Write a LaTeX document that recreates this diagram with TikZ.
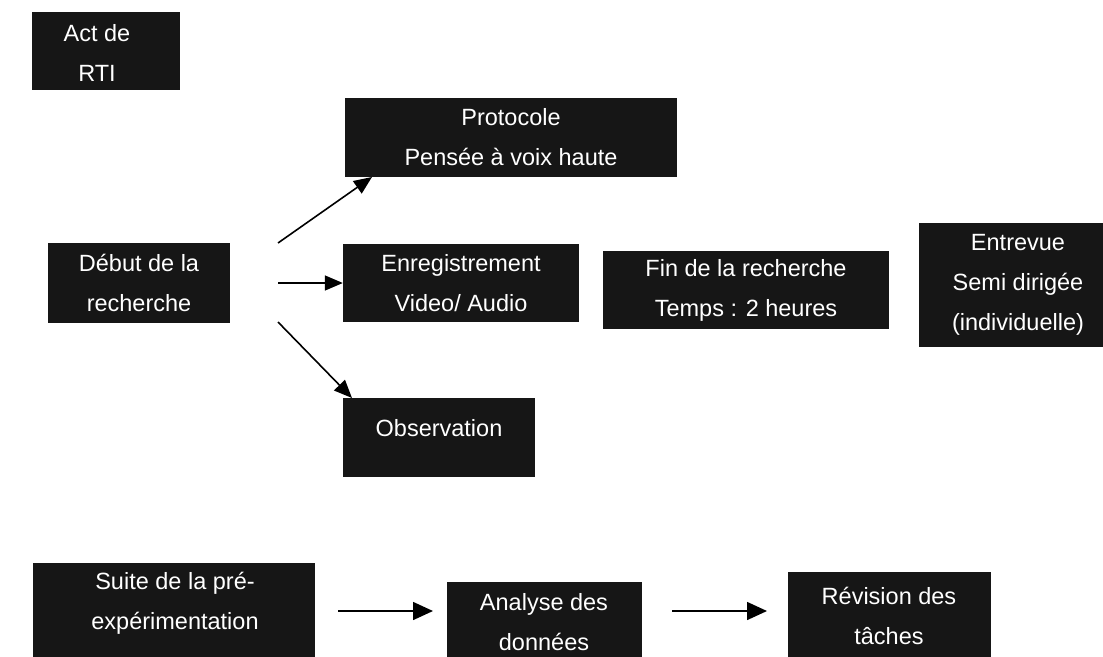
\documentclass[tikz,border=0pt]{standalone}
\usepackage{fontspec}
\setmainfont{Liberation Sans}
\usetikzlibrary{arrows.meta}
\definecolor{boxfill}{RGB}{22,22,22}
\begin{document}
\begin{tikzpicture}[x=1pt,y=-1pt,
  box/.style={fill=boxfill, draw=none, inner sep=0pt, text=white, align=center,
    font=\fontsize{23.5}{40}\selectfont},
  txt/.style={inner sep=0pt, text=white, align=center, font=\fontsize{23.5}{40}\selectfont},
  arr/.style={line width=1.6pt, -{Triangle[length=18pt,width=15pt]}},
  arrb/.style={line width=1.6pt, -{Triangle[length=20pt,width=18pt]}}]
\useasboundingbox (0,0) rectangle (1103,656);
\clip (0,0) rectangle (1103,656);
% boxes
\node[box, minimum width=148pt, minimum height=78pt] (act) at (106,51) {};
\node[txt] (actt) at (97,53) {Act de\\RTI};
\node[box, minimum width=332pt, minimum height=79pt] (prot) at (511,137.5) {Protocole\\Pensée à voix haute};
\node[box, minimum width=182pt, minimum height=80pt] (debut) at (139,283) {Début de la\\recherche};
\node[box, minimum width=236pt, minimum height=78pt] (enr) at (461,283) {Enregistrement\\Video/ Audio};
\node[box, minimum width=286pt, minimum height=78pt] (fin) at (746,290) {Fin de la recherche\\Temps : 2 heures};
\node[box, minimum width=198pt, minimum height=124pt] (entre) at (1018,285) {Entrevue\\Semi dirigée\\(individuelle)};
\node[box, minimum width=192pt, minimum height=79pt] (obs) at (439,437.5) {};
\node[txt] (obst) at (439,428) {Observation};
\node[box, minimum width=282pt, minimum height=137pt] (suite) at (174,631.5) {};
\node[txt] (suitet) at (175,603) {Suite de la pré-\\expérimentation};
\node[box, minimum width=195pt, minimum height=118pt] (ana) at (544.5,641) {};
\node[txt] (anat) at (544,622) {Analyse des\\données};
\node[box, minimum width=203pt, minimum height=128pt] (rev) at (889.5,636) {};
\node[txt] (revt) at (889,616) {Révision des\\tâches};
% connectors
\coordinate (s1) at (278,243);
\coordinate (t1) at (372,177);
\coordinate (s2) at (278,283);
\coordinate (s3) at (278,322);
\coordinate (t3) at (352,398);
\coordinate (s4) at (338,611);
\coordinate (t4) at (433,611);
\coordinate (s5) at (672,611);
\coordinate (t5) at (767,611);
\draw[arr] (s1) -- (t1);
\draw[arr] (s2) -- (enr.west);
\draw[arr] (s3) -- (t3);
\draw[arrb] (s4) -- (t4);
\draw[arrb] (s5) -- (t5);
\end{tikzpicture}
\end{document}
